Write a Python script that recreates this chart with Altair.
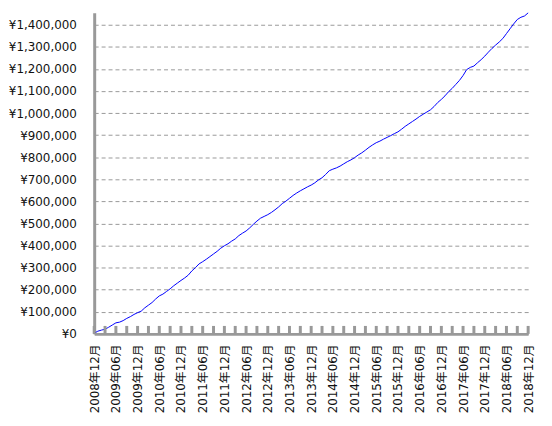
import altair as alt
import pandas as pd

# Monthly labels 2008-12 .. 2018-12
months = []
y, m = 2008, 12
for _ in range(121):
    months.append(f"{y}年{m:02d}月")
    m += 1
    if m > 12:
        m = 1
        y += 1

values = [
    3000, 12000, 17000, 21000, 30000, 40000, 50000, 53000, 60000, 70000,
    78000, 88000, 96000, 103000, 118000, 130000, 142000, 158000, 172000, 180000,
    192000, 204000, 218000, 230000, 242000, 253000, 266000, 285000, 300000, 317000,
    327000, 338000, 350000, 362000, 374000, 388000, 399000, 408000, 420000, 430000,
    445000, 456000, 466000, 480000, 496000, 511000, 524000, 532000, 540000, 550000,
    562000, 575000, 590000, 601000, 614000, 627000, 638000, 648000, 657000, 666000,
    674000, 684000, 697000, 707000, 722000, 739000, 746000, 752000, 760000, 770000,
    780000, 788000, 798000, 810000, 820000, 832000, 845000, 856000, 866000, 873000,
    882000, 890000, 898000, 907000, 915000, 927000, 940000, 951000, 962000, 973000,
    985000, 995000, 1005000, 1015000, 1030000, 1048000, 1062000, 1078000, 1097000, 1112000,
    1130000, 1148000, 1170000, 1197000, 1207000, 1213000, 1228000, 1242000, 1258000, 1276000,
    1293000, 1308000, 1322000, 1338000, 1360000, 1382000, 1404000, 1424000, 1434000, 1440000,
    1454000,
]

label_months = months[::6]
tick_months = months[::3]
y_ticks = list(range(0, 1400001, 100000))

df = pd.DataFrame({"month": months, "value": values})
ticks_df = pd.DataFrame({"month": tick_months})

W, H = 438, 324
FONT = "DejaVu Sans, Noto Sans CJK JP"

xscale = alt.Scale(type="point", padding=0, domain=months)

line = alt.Chart(df).mark_line(color="#0000ff", strokeWidth=1).encode(
    x=alt.X("month:O", scale=xscale, sort=None,
            axis=alt.Axis(values=label_months, title=None, labelAngle=270,
                          labelAlign="right", labelBaseline="middle",
                          labelPadding=10, ticks=False, labelFont=FONT,
                          labelFontSize=12, labelColor="#111",
                          domainColor="#999999", domainWidth=3, grid=False,
                          labelOverlap=False, orient="bottom")),
    y=alt.Y("value:Q", scale=alt.Scale(domain=[0, 1454000], nice=False),
            axis=alt.Axis(values=y_ticks, title=None,
                          labelExpr="'¥' + format(datum.value, ',')",
                          labelFont=FONT, labelFontSize=12,
                          labelColor="#111", labelPadding=18, ticks=False,
                          domainColor="#999999", domainWidth=3,
                          grid=True, gridColor="#999999", gridDash=[4, 3],
                          gridWidth=1)),
)

tick_rules = alt.Chart(ticks_df).mark_rule(color="#999999", strokeWidth=3).encode(
    x=alt.X("month:O", scale=xscale, sort=None),
    y=alt.value(H - 8),
    y2=alt.value(H),
)

chart = alt.layer(line, tick_rules).properties(
    width=W, height=H,
    padding={"left": 0, "top": 1, "right": 10, "bottom": 2},
    background="white",
).configure_view(stroke=None)

chart.save("out.html", embed_options={"renderer": "svg", "actions": False})
